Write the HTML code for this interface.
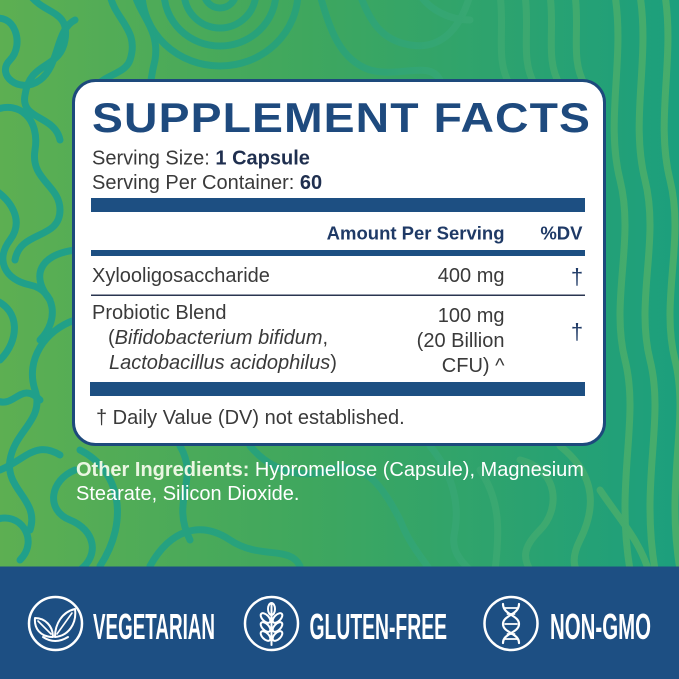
<!DOCTYPE html>
<html><head><meta charset="utf-8"><style>
html,body{margin:0;padding:0;width:679px;height:679px;overflow:hidden;background:#3aa663}
svg{display:block}
text{font-family:"Liberation Sans",Arial,sans-serif}
</style></head><body>
<svg width="679" height="679" viewBox="0 0 679 679" xmlns="http://www.w3.org/2000/svg">
<defs>
<linearGradient id="bg" x1="0" y1="0" x2="679" y2="0" gradientUnits="userSpaceOnUse">
<stop offset="0" stop-color="#5daf52"/><stop offset="0.45" stop-color="#3fa75e"/><stop offset="1" stop-color="#1c9f7d"/>
</linearGradient>
<linearGradient id="ln" x1="0" y1="0" x2="679" y2="0" gradientUnits="userSpaceOnUse">
<stop offset="0" stop-color="#1fa08c"/><stop offset="0.45" stop-color="#2aa277"/><stop offset="1" stop-color="#48ad6b"/>
</linearGradient>
</defs>
<rect x="0" y="0" width="679" height="679" fill="url(#bg)"/>
<g stroke="url(#ln)" stroke-width="7" fill="none" stroke-linecap="round">
<path d="M -10 20 C 15 10, 25 45, 10 60 C -5 75, 20 95, 40 80 C 60 65, 55 30, 75 20"/>
<path d="M 30 -5 C 45 15, 70 10, 65 40 C 60 70, 30 60, 25 95 C 20 120, 55 115, 60 140"/>
<path d="M -5 110 C 20 100, 40 120, 35 150 C 30 180, 60 185, 60 210 C 60 240, 20 230, 15 260"/>
<path d="M -5 190 C 10 200, 25 220, 10 240 C -5 260, 5 280, 30 285 C 55 290, 60 320, 40 340"/>
<path d="M 75 250 C 40 255, 30 275, 50 300"/>
<path d="M -5 300 C 20 310, 20 340, 0 360"/>
<path d="M 75 320 C 45 330, 25 360, 35 390 C 45 420, 15 430, 10 460 C 5 490, 40 500, 30 530"/>
<path d="M -5 400 C 15 410, 20 380, 40 400"/>
<path d="M 75 470 C 50 480, 45 510, 70 520 C 95 530, 100 555, 80 570"/>
<path d="M -5 520 C 20 510, 40 540, 20 560"/>
<path d="M 0 470 C 25 460, 35 440, 60 455"/>
<ellipse cx="220" cy="-8" rx="16" ry="16"/>
<ellipse cx="220" cy="-8" rx="36" ry="36"/>
<ellipse cx="220" cy="-8" rx="56" ry="54"/>
<ellipse cx="220" cy="-8" rx="78" ry="74"/>
<path d="M 110 -5 C 115 20, 140 30, 130 60 C 125 75, 100 75, 95 90"/>
<path d="M 135 -5 C 140 15, 160 30, 155 60 C 150 80, 150 90, 150 95"/>
<path d="M 320 -5 C 330 30, 340 60, 370 70 C 400 78, 430 60, 440 80"/>
<path d="M 360 -5 C 370 20, 380 40, 410 45 C 440 50, 460 30, 470 -5"/>
<path d="M 420 -5 C 430 10, 450 20, 470 20"/>
<path d="M 500 -5 C 505 30, 495 60, 510 85"/>
<path d="M 525 -5 C 530 30, 520 60, 535 85"/>
<path d="M 550 -5 C 555 30, 545 60, 560 85"/>
<path d="M 575 -5 C 580 30, 570 60, 585 85"/>
<path d="M 615 -5 C 625 60, 605 120, 620 180 C 635 240, 610 300, 625 360 C 640 420, 615 480, 630 570"/>
<path d="M 640 -5 C 650 60, 630 120, 645 180 C 660 240, 635 300, 650 360 C 665 420, 640 480, 655 570"/>
<path d="M 665 -5 C 675 60, 655 120, 670 180 C 685 240, 660 300, 675 360 C 690 420, 665 480, 680 570"/>
<path d="M 80 450 C 120 470, 130 520, 100 566"/>
<path d="M 150 566 C 170 530, 200 520, 230 540 C 260 560, 290 545, 300 566"/>
<path d="M 250 446 C 270 470, 300 480, 330 470 C 360 460, 380 480, 400 520 C 410 545, 420 555, 430 570"/>
<path d="M 430 446 C 450 470, 460 500, 455 530 C 450 550, 460 560, 470 570"/>
<path d="M 480 470 C 500 500, 500 530, 495 570"/>
<path d="M 520 460 C 560 470, 560 510, 540 530 C 520 550, 525 560, 530 570"/>
<path d="M 560 446 C 590 470, 600 500, 580 540 C 570 560, 575 570, 580 575"/>
<path d="M 600 490 C 620 520, 640 540, 650 575"/>
<path d="M 180 446 C 200 480, 170 500, 190 540"/>
</g>

<!-- facts box -->
<rect x="73.5" y="80.5" width="531" height="364" rx="22" ry="22" fill="#ffffff" stroke="#1d4a7c" stroke-width="3"/>
<text x="92" y="132" font-size="42" font-weight="bold" fill="#1e4a7e" letter-spacing="1" textLength="499" lengthAdjust="spacingAndGlyphs">SUPPLEMENT FACTS</text>
<text x="92" y="164.5" font-size="20" fill="#3a3a3a">Serving Size: <tspan font-weight="bold" fill="#1f2f4f">1 Capsule</tspan></text>
<text x="92" y="189" font-size="20" fill="#3a3a3a">Serving Per Container: <tspan font-weight="bold" fill="#1f2f4f">60</tspan></text>
<rect x="91" y="198" width="494" height="14" fill="#1d4f82"/>
<text x="504.5" y="239.5" font-size="18.5" font-weight="bold" fill="#1f3a66" text-anchor="end">Amount Per Serving</text>
<text x="582.5" y="239.5" font-size="18.5" font-weight="bold" fill="#1f3a66" text-anchor="end">%DV</text>
<rect x="91" y="250" width="494" height="6" fill="#1d4f82"/>
<text x="92" y="282" font-size="20" fill="#3a3a3a">Xylooligosaccharide</text>
<text x="504.5" y="282" font-size="20" fill="#3a3a3a" text-anchor="end">400 mg</text>
<text x="577" y="284" font-size="22" fill="#1f3a66" text-anchor="middle">†</text>
<rect x="91" y="294.5" width="494" height="1.5" fill="#2a3550"/>
<text x="92" y="319" font-size="20" fill="#3a3a3a">Probiotic Blend</text>
<text x="108" y="344" font-size="20" fill="#3a3a3a">(<tspan font-style="italic">Bifidobacterium bifidum</tspan>,</text>
<text x="109" y="369" font-size="20" fill="#3a3a3a"><tspan font-style="italic">Lactobacillus acidophilus</tspan>)</text>
<text x="504.5" y="322" font-size="20" fill="#3a3a3a" text-anchor="end">100 mg</text>
<text x="504.5" y="347" font-size="20" fill="#3a3a3a" text-anchor="end">(20 Billion</text>
<text x="504.5" y="372" font-size="20" fill="#3a3a3a" text-anchor="end">CFU) ^</text>
<text x="577" y="339" font-size="22" fill="#1f3a66" text-anchor="middle">†</text>
<rect x="90" y="382" width="495" height="14" fill="#1d4f82"/>
<text x="96" y="424" font-size="20" fill="#3a3a3a">† Daily Value (DV) not established.</text>

<!-- other ingredients -->
<text x="76" y="476" font-size="20" fill="#ffffff"><tspan font-weight="bold" fill="#eaf6e2">Other Ingredients:</tspan> Hypromellose (Capsule), Magnesium</text>
<text x="76" y="500" font-size="20" fill="#ffffff">Stearate, Silicon Dioxide.</text>

<!-- banner -->
<rect x="0" y="566.5" width="679" height="113" fill="#1d4f83"/>
<g stroke="#ffffff" stroke-width="2.5" fill="none" stroke-linecap="round" stroke-linejoin="round">
<circle cx="55.5" cy="623.5" r="26.5"/>
<circle cx="271.5" cy="623.5" r="26.5"/>
<circle cx="511" cy="623.5" r="26.5"/>
<path d="M 53 637 C 40 637, 34 628, 35 618 C 45 618, 53 626, 53 637 Z" stroke-width="2"/>
<path d="M 38 621 L 51 634" stroke-width="1.6"/>
<path d="M 55 637 C 55 624, 62 612, 75 609 C 77 624, 68 636, 55 637 Z" stroke-width="2"/>
<path d="M 72 613 L 57 634" stroke-width="1.6"/>
<path d="M 43 637 Q 55 645 68 637" stroke-width="2"/>
<path d="M 271.5 604 L 271.5 645" stroke-width="2"/>
<ellipse cx="271.5" cy="609" rx="3.5" ry="6" stroke-width="2"/>
<ellipse cx="265.5" cy="618" rx="3.2" ry="6" transform="rotate(-45 265.5 618)" stroke-width="2"/>
<ellipse cx="277.5" cy="618" rx="3.2" ry="6" transform="rotate(45 277.5 618)" stroke-width="2"/>
<ellipse cx="265.5" cy="627" rx="3.2" ry="6" transform="rotate(-45 265.5 627)" stroke-width="2"/>
<ellipse cx="277.5" cy="627" rx="3.2" ry="6" transform="rotate(45 277.5 627)" stroke-width="2"/>
<ellipse cx="265.5" cy="636" rx="3.2" ry="6" transform="rotate(-45 265.5 636)" stroke-width="2"/>
<ellipse cx="277.5" cy="636" rx="3.2" ry="6" transform="rotate(45 277.5 636)" stroke-width="2"/>
<path d="M 503 604 C 503 615, 519 615, 519 624 C 519 633, 503 633, 503 643" stroke-width="2.2"/>
<path d="M 519 604 C 519 615, 503 615, 503 624 C 503 633, 519 633, 519 643" stroke-width="2.2"/>
<path d="M 505 608 L 517 608 M 507.5 614 L 514.5 614 M 505 624 L 517 624 M 507.5 634 L 514.5 634 M 505 639 L 517 639" stroke-width="1.8"/>
</g>
<text x="93" y="639" font-size="36" font-weight="bold" fill="#ffffff" textLength="122" lengthAdjust="spacingAndGlyphs">VEGETARIAN</text>
<text x="309.5" y="639" font-size="36" font-weight="bold" fill="#ffffff" textLength="137.5" lengthAdjust="spacingAndGlyphs">GLUTEN-FREE</text>
<text x="550" y="639" font-size="36" font-weight="bold" fill="#ffffff" textLength="101" lengthAdjust="spacingAndGlyphs">NON-GMO</text>
</svg>
</body></html>
